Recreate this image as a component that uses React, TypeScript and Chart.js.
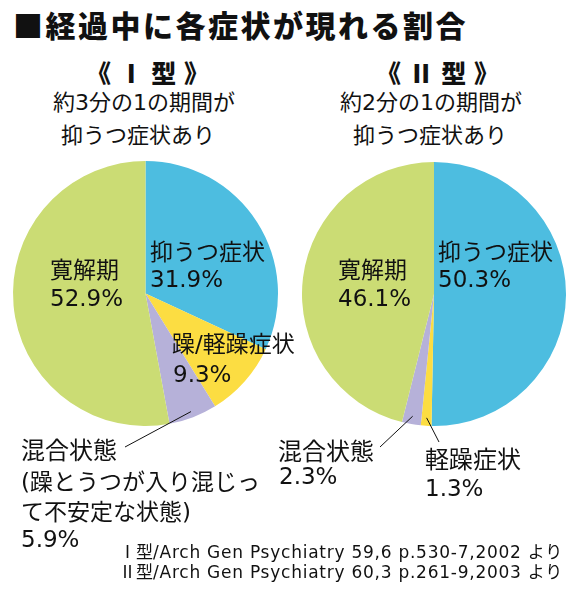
import React, { useEffect, useRef } from "react";
import { Chart, registerables } from "chart.js";

Chart.register(...registerables);

// ---- data ----
const categories = ["抑うつ症状", "躁/軽躁症状", "混合状態", "寛解期"];
const type1Values = [31.9, 9.3, 5.9, 52.9];
const type2Values = [50.3, 1.3, 2.3, 46.1];
const type1Names = ["抑うつ症状", "躁/軽躁症状", "混合状態", "寛解期"];
const type2Names = ["抑うつ症状", "軽躁症状", "混合状態", "寛解期"];
const mixedNote = ["(躁とうつが入り混じっ", "て不安定な状態)"];
const titleText = "■経過中に各症状が現れる割合";
const type1Title = "《 Ⅰ 型 》";
const type2Title = "《 Ⅱ 型 》";
const type1Sub = ["約3分の1の期間が", "抑うつ症状あり"];
const type2Sub = ["約2分の1の期間が", "抑うつ症状あり"];
const sourceTypes = ["Ⅰ型", "Ⅱ型"];
const sources = [
  "/Arch Gen Psychiatry 59,6 p.530-7,2002 より",
  "/Arch Gen Psychiatry 60,3 p.261-9,2003 より",
];

// ---- styles ----
const sliceColors = ["#4dbde0", "#fcdd42", "#b6b1d9", "#cbdc74"];
const FONT = '"Noto Sans CJK JP", "Noto Sans", sans-serif';
const FONT_LAT = '"DejaVu Sans", "Noto Sans CJK JP", sans-serif';
const TXT = "#111111";

type Leader = { index: number; frac: number; x: number; y: number };

const leaderPlugin = {
  id: "leaders",
  afterDatasetsDraw(chart: any, _args: any, opts: any) {
    const leaders: Leader[] = opts.leaders || [];
    const meta = chart.getDatasetMeta(0);
    const ctx = chart.ctx;
    ctx.save();
    ctx.strokeStyle = "#111";
    ctx.lineWidth = 1;
    leaders.forEach((l) => {
      const arc = meta.data[l.index];
      if (!arc) return;
      const p = arc.getProps(["x", "y", "startAngle", "endAngle", "outerRadius"], true);
      const mid = (p.startAngle + p.endAngle) / 2;
      const r = p.outerRadius * l.frac;
      ctx.beginPath();
      ctx.moveTo(p.x + Math.cos(mid) * r, p.y + Math.sin(mid) * r);
      ctx.lineTo(l.x, l.y);
      ctx.stroke();
    });
    ctx.restore();
  },
};

function Pie(props: {
  values: number[];
  left: number;
  top: number;
  width: number;
  height: number;
  padding: { left: number; right: number; top: number; bottom: number };
  leaders: Leader[];
}) {
  const ref = useRef<HTMLCanvasElement | null>(null);
  useEffect(() => {
    if (!ref.current) return;
    const chart = new Chart(ref.current, {
      type: "pie",
      data: {
        labels: categories,
        datasets: [
          {
            data: props.values,
            backgroundColor: sliceColors,
            borderWidth: 0,
          },
        ],
      },
      options: {
        responsive: false,
        animation: false,
        layout: { padding: props.padding },
        plugins: {
          legend: { display: false },
          tooltip: { enabled: false },
          leaders: { leaders: props.leaders },
        } as any,
      },
      plugins: [leaderPlugin],
    });
    return () => chart.destroy();
  }, []);
  return (
    <canvas
      ref={ref}
      width={props.width}
      height={props.height}
      style={{ position: "absolute", left: props.left, top: props.top, width: props.width, height: props.height }}
    />
  );
}

function T(props: {
  x: number;
  cy: number;
  fs: number;
  text: string;
  prefix?: string;
  bold?: boolean;
  align?: "left" | "center" | "right";
  w?: number;
  ls?: number;
  lat?: boolean;
}) {
  const align = props.align || "left";
  const w = props.w || 300;
  let left = props.x;
  if (align === "center") left = props.x - w / 2;
  if (align === "right") left = props.x - w;
  return (
    <div
      style={{
        position: "absolute",
        left,
        top: props.cy - props.fs * 0.55,
        width: w,
        fontSize: props.fs,
        lineHeight: `${props.fs}px`,
        fontFamily: props.lat ? FONT_LAT : FONT,
        fontWeight: props.bold ? 900 : 400,
        color: TXT,
        textAlign: align,
        whiteSpace: "nowrap",
        letterSpacing: props.ls || 0,
      }}
    >
      {props.prefix ? <span style={{ fontFamily: FONT, letterSpacing: 0 }}>{props.prefix}</span> : null}
      {props.text}
    </div>
  );
}

export default function App() {
  const pct = (v: number) => `${v}%`;
  return (
    <div
      style={{
        position: "absolute",
        left: 0,
        top: 0,
        width: 586,
        height: 594,
        background: "#ffffff",
        overflow: "hidden",
      }}
    >
      <Pie
        values={type1Values}
        left={0}
        top={150}
        width={290}
        height={320}
        padding={{ left: 13, right: 12, top: 11, bottom: 44 }}
        leaders={[{ index: 2, frac: 0.955, x: 125, y: 297 }]}
      />
      <Pie
        values={type2Values}
        left={293}
        top={150}
        width={293}
        height={320}
        padding={{ left: 9, right: 20, top: 12, bottom: 44 }}
        leaders={[
          { index: 2, frac: 0.94, x: 87, y: 297 },
          { index: 1, frac: 0.94, x: 146, y: 292 },
        ]}
      />

      <T x={13} cy={25} fs={30} text={titleText} bold ls={2.5} />

      <T x={148} cy={74} fs={25} text={type1Title} bold align="center" ls={1} />
      <T x={144} cy={104} fs={22} text={type1Sub[0]} align="center" lat />
      <T x={138} cy={134} fs={22} text={type1Sub[1]} align="center" />

      <T x={438} cy={74} fs={25} text={type2Title} bold align="center" ls={1} />
      <T x={431} cy={104} fs={22} text={type2Sub[0]} align="center" lat />
      <T x={430} cy={134} fs={22} text={type2Sub[1]} align="center" />

      {/* Type I slice labels */}
      <T x={150} cy={252} fs={23} text={type1Names[0]} />
      <T x={150} cy={281} fs={23} text={pct(type1Values[0])} lat />
      <T x={50} cy={270} fs={23} text={type1Names[3]} />
      <T x={50} cy={300} fs={23} text={pct(type1Values[3])} lat />
      <T x={172} cy={346} fs={23} text={type1Names[1]} lat />
      <T x={173} cy={376} fs={23} text={pct(type1Values[1])} lat />
      <T x={21} cy={450} fs={24} text={type1Names[2]} />
      <T x={21} cy={484} fs={23} text={mixedNote[0]} lat />
      <T x={21} cy={514} fs={23} text={mixedNote[1]} lat />
      <T x={21} cy={541} fs={23} text={pct(type1Values[2])} lat />

      {/* Type II slice labels */}
      <T x={438} cy={252} fs={23} text={type2Names[0]} />
      <T x={438} cy={281} fs={23} text={pct(type2Values[0])} lat />
      <T x={338} cy={270} fs={23} text={type2Names[3]} />
      <T x={338} cy={300} fs={23} text={pct(type2Values[3])} lat />
      <T x={278} cy={451} fs={24} text={type2Names[2]} />
      <T x={279} cy={478} fs={23} text={pct(type2Values[2])} lat />
      <T x={425} cy={459} fs={24} text={type2Names[1]} />
      <T x={425} cy={490} fs={23} text={pct(type2Values[1])} lat />

      <T x={563} cy={551} fs={17} prefix={sourceTypes[0]} text={sources[0]} align="right" w={470} lat ls={0.75} />
      <T x={563} cy={571} fs={17} prefix={sourceTypes[1]} text={sources[1]} align="right" w={470} lat ls={0.75} />
    </div>
  );
}
